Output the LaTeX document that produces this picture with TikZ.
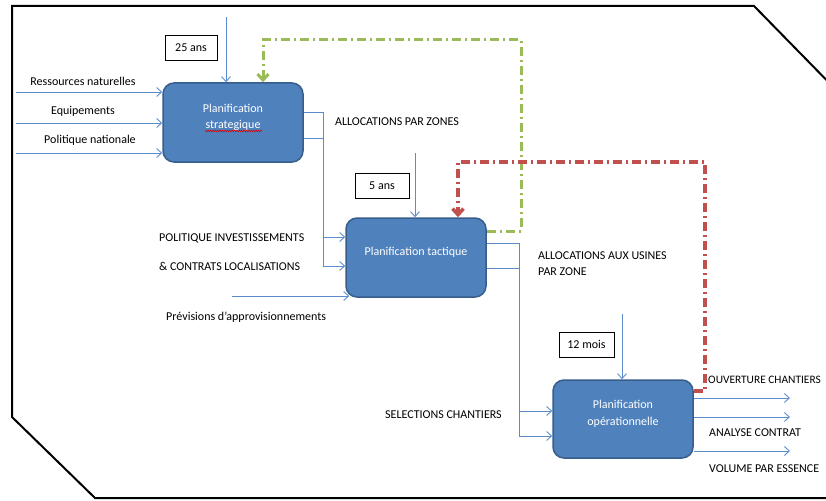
\documentclass[tikz,border=0pt]{standalone}
\usepackage{fontspec}
\setmainfont{Carlito}
\usetikzlibrary{arrows.meta,positioning,decorations.pathmorphing}
\definecolor{planfill}{RGB}{79,129,189}
\definecolor{plandraw}{RGB}{56,93,138}
\definecolor{flowblue}{RGB}{91,141,206}
\definecolor{fbgreen}{RGB}{155,187,89}
\definecolor{fbred}{RGB}{192,80,77}

\begin{document}
\begin{tikzpicture}[x=1pt,y=-1pt,
  font=\fontsize{12}{16.5}\selectfont,
  planbox/.style={draw=plandraw,line width=1.5pt,fill=planfill,rounded corners=11pt,
    minimum width=140pt,minimum height=79pt},
  boxtext/.style={text=white,align=center,inner sep=0pt},
  horizon/.style={draw,line width=.8pt,minimum height=25pt,inner sep=0pt},
  flow/.style={draw=flowblue,line width=.9pt,-{Straight Barb[length=5pt,width=9pt]}},
  feedback/.style={line width=3pt,dash pattern=on 9pt off 4pt on 2pt off 4pt,
    -{Straight Barb[length=6pt,width=11pt]}},
  lbl/.style={inner sep=0pt}]
  \useasboundingbox (0,0) rectangle (826,500);
  % frame
  \draw[line width=2pt] (846,100) -- (754,6) -- (12,6) -- (12,417) -- (95,498) -- (846,498);

  % planning levels
  \node[planbox] (strat) at (233,122.5) {};
  \node[planbox] (tact) at (416,257.5) {};
  \node[planbox,minimum height=78pt] (ops) at (623,419) {};
  \node[boxtext] (strattxt) at ([yshift=5pt]strat.center) {Planification\\strategique};
  \node[boxtext] (tacttxt) at ([yshift=5.5pt]tact.center) {Planification tactique};
  \node[boxtext] (opstxt) at ([yshift=5pt]ops.center) {Planification\\op\'erationnelle};
  \draw[red!85!black,line width=.6pt,decorate,decoration={snake,amplitude=.8pt,segment length=2.4pt}]
    ([xshift=-28pt,yshift=-8.5pt]strat.center) -- ([xshift=29pt,yshift=-8.5pt]strat.center);

  % horizons
  \node[horizon,minimum width=52pt] (h25) at (191,47.5) {25 ans};
  \node[horizon,minimum width=54pt] (h5) at (382,185.5) {5 ans};
  \node[horizon,minimum width=55pt] (h12) at (586.5,344.5) {12 mois};

  % inputs
  \coordinate (stratin) at (226,17);
  \coordinate (tactin) at (415,153);
  \coordinate (opsin) at (622,314);
  \draw[flow] (stratin) -- (stratin |- strat.north);
  \draw[flow] (tactin) -- (tactin |- tact.north);
  \draw[flow] (opsin) -- (opsin |- ops.north);

  \coordinate (res) at (16,92);
  \coordinate (equ) at (16,123);
  \coordinate (pol) at (16,153);
  \coordinate (prev) at (232,296);
  \draw[flow] (res) -- (res -| strat.west);
  \draw[flow] (equ) -- (equ -| strat.west);
  \draw[flow] (pol) -- (pol -| strat.west);
  \draw[flow] (prev) -- ([xshift=4pt]prev -| tact.west);

  \node[lbl] (reslbl) at (83,81) {Ressources naturelles};
  \node[lbl] (equlbl) at (83,111) {Equipements};
  \node[lbl] (pollbl) at (90,140) {Politique nationale};
  \node[lbl,anchor=west] (prevlbl) at (166,317) {Pr\'evisions d’approvisionnements};

  % links between levels
  \draw[flow] ([yshift=10.5pt]strat.east) -- ++(20,0) |- ([yshift=20.5pt]tact.west);
  \draw[flow] ([yshift=-15.5pt]strat.east) -- ++(20,0) |- ([yshift=-8.5pt]tact.west);
  \draw[flow] ([yshift=14.5pt]tact.east) -- ++(33,0) |- ([yshift=8pt]ops.west);
  \draw[flow] ([yshift=-10.5pt]tact.east) -- ++(33,0) |- ([yshift=-17pt]ops.west);

  \node[lbl] (alloczones) at (397,122) {ALLOCATIONS PAR ZONES};
  \node[lbl,anchor=west] (polinv) at (159,238) {POLITIQUE INVESTISSEMENTS};
  \node[lbl,anchor=west] (contrats) at (159,266) {\& CONTRATS LOCALISATIONS};
  \node[lbl,anchor=west,align=left] (allocusines) at (538,263.5) {ALLOCATIONS AUX USINES\\PAR ZONE};
  \node[lbl,anchor=west] (selections) at (385,415) {SELECTIONS CHANTIERS};

  % outputs
  \coordinate (out1) at (790,398);
  \coordinate (out2) at (790,417);
  \coordinate (out3) at (790,451);
  \draw[flow] (out1 -| ops.east) -- (out1);
  \draw[flow] (out2 -| ops.east) -- (out2);
  \draw[flow] (out3 -| ops.east) -- (out3);
  \node[lbl,anchor=west,font=\fontsize{11.4}{14}\selectfont] (ouverture) at (708,380) {OUVERTURE CHANTIERS};
  \node[lbl,anchor=west] (analyse) at (709,433) {ANALYSE CONTRAT};
  \node[lbl,anchor=west] (volume) at (709,469) {VOLUME PAR ESSENCE};

  % feedback loops
  \draw[feedback,fbgreen] ([yshift=26.5pt]tact.east) -| (521,40) -| ([xshift=30pt]strat.north);
  \draw[feedback,fbred,line width=3.5pt] ([yshift=28pt]ops.east) -| (705,162) -| ([xshift=42pt]tact.north);
\end{tikzpicture}
\end{document}
